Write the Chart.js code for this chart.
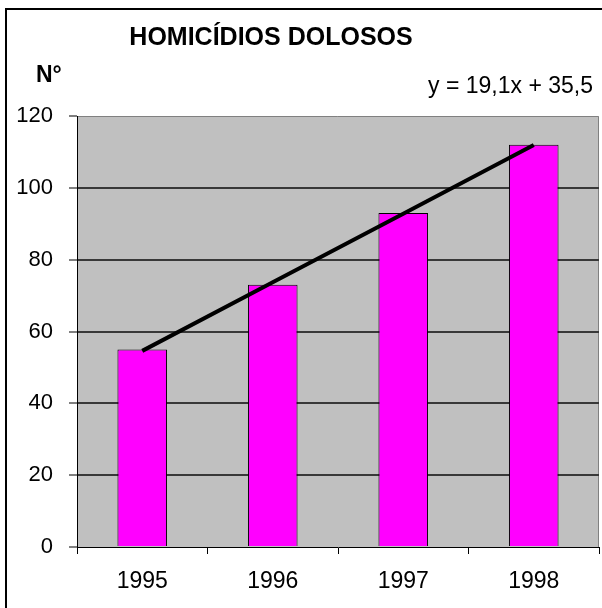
<!DOCTYPE html>
<html>
<head>
<meta charset="utf-8">
<script src="https://cdn.jsdelivr.net/npm/chart.js@4/dist/chart.umd.min.js"></script>
<style>
  html, body { margin: 0; padding: 0; background: #fff; }
  #wrap { width: 602px; height: 608px; }
</style>
</head>
<body>
<div id="wrap"><canvas id="chart" width="602" height="608"></canvas></div>
<script>
// data
const years = ['1995', '1996', '1997', '1998'];
const homicidios = [55, 73, 93, 112];
const tendencia = [54.6, 73.7, 92.8, 111.9];   // linha de tendência y = 19,1x + 35,5
const yTicks = [0, 20, 40, 60, 80, 100, 120];

const FONT = "'Liberation Sans', Arial, sans-serif";

// gray plot background + frame lines
const plotBg = {
  id: 'plotBg',
  beforeDraw(chart) {
    const { ctx, chartArea: a } = chart;
    ctx.save();
    ctx.fillStyle = '#C0C0C0';
    ctx.fillRect(a.left, a.top, a.right - a.left, a.bottom - a.top);
    ctx.strokeStyle = '#808080';
    ctx.lineWidth = 1;
    ctx.beginPath();
    ctx.moveTo(a.left, a.top + 0.5);
    ctx.lineTo(a.right - 0.5, a.top + 0.5);
    ctx.lineTo(a.right - 0.5, a.bottom);
    ctx.stroke();
    // outer chart border (only left and top visible in the crop)
    ctx.strokeStyle = '#000';
    ctx.lineWidth = 2;
    ctx.beginPath();
    ctx.moveTo(6, chart.height);
    ctx.lineTo(6, 9);
    ctx.lineTo(chart.width, 9);
    ctx.stroke();
    ctx.restore();
  }
};

// title, axis label and trend equation
const texts = {
  id: 'texts',
  afterDraw(chart) {
    const ctx = chart.ctx;
    ctx.save();
    ctx.fillStyle = '#000';
    ctx.textBaseline = 'alphabetic';
    ctx.font = 'bold 25px ' + FONT;
    ctx.textAlign = 'center';
    ctx.fillText('HOMICÍDIOS DOLOSOS', 271, 45);
    ctx.font = 'bold 23px ' + FONT;
    ctx.textAlign = 'left';
    ctx.fillText('N°', 36, 82);
    ctx.font = '23px ' + FONT;
    ctx.textAlign = 'right';
    ctx.fillText('y = 19,1x + 35,5', 593, 93);
    ctx.restore();
  }
};

Chart.defaults.color = '#000';
Chart.defaults.font.family = FONT;

new Chart(document.getElementById('chart'), {
  type: 'bar',
  data: {
    labels: years,
    datasets: [
      {
        type: 'line',
        data: tendencia,
        borderColor: '#000',
        borderWidth: 4,
        pointRadius: 0,
        fill: false,
        order: 0
      },
      {
        data: homicidios,
        backgroundColor: '#FF00FF',
        borderColor: '#000',
        borderWidth: 1,
        categoryPercentage: 1,
        barPercentage: 0.38,
        order: 1
      }
    ]
  },
  options: {
    responsive: false,
    animation: false,
    layout: { padding: { top: 116, right: 3, left: 0, bottom: 0 } },
    plugins: {
      legend: { display: false },
      tooltip: { enabled: false }
    },
    scales: {
      x: {
        offset: true,
        grid: {
          offset: true,
          drawOnChartArea: false,
          drawTicks: true,
          tickLength: 7,
          tickColor: '#000',
          tickWidth: 1
        },
        border: { display: true, color: '#000', width: 1 },
        ticks: { font: { size: 23 }, padding: 14, color: '#000' },
        afterFit(scale) { scale.height = 61; }
      },
      y: {
        min: 0,
        max: 120,
        afterBuildTicks(scale) { scale.ticks = yTicks.map(v => ({ value: v })); },
        grid: {
          color: ctx => (ctx.tick && (ctx.tick.value === 0 || ctx.tick.value === 120)) ? 'rgba(0,0,0,0)' : '#383838',
          lineWidth: 2,
          tickLength: 8,
          tickColor: '#000',
          tickWidth: 1
        },
        border: { display: true, color: '#000', width: 1 },
        ticks: { font: { size: 22 }, padding: 16, color: '#000' },
        afterFit(scale) { scale.width = 77; }
      }
    }
  },
  plugins: [plotBg, texts]
});
</script>
</body>
</html>
